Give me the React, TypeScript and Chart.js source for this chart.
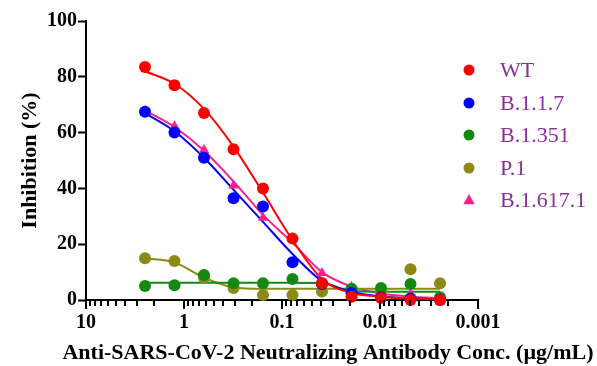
import React, { useEffect, useRef } from 'react';
import { Chart, registerables } from 'chart.js';

Chart.register(...registerables);

// Concentrations (µg/mL), 2-fold serial dilution
const concentrations = [2.5, 1.25, 0.625, 0.3125, 0.15625, 0.078125, 0.0390625, 0.01953125, 0.009765625, 0.0048828125, 0.00244140625];

const seriesNames = ['WT', 'B.1.1.7', 'B.1.351', 'P.1', 'B.1.617.1'];

// Measured inhibition (%)
const wtValues = [83.5, 77, 67, 54, 40, 22, 6, 1.2, 0.7, 0, 0];
const b117Values = [67.5, 60, 51, 36.5, 33.5, 13.5, 5.7, 2.5, 1, 0.5, 0];
const b1351Values = [5, 5.3, 9, 6, 6, 7.5, 6, 4, 4.3, 5.7, 1];
const p1Values = [15, 14, 8, 4.3, 1.8, 1.8, 3, 3, 3, 11, 6];
const b16171Values = [67.7, 62.3, 53.8, 41, 29.5, 22, 9.7, 4.7, 2, 2, -0.5];

// Fitted curves at the same concentrations
const wtFit = [82, 77.5, 68.5, 55, 38.5, 21.5, 7.5, 2.5, 1.2, 0.5, 0.3];
const b117Fit = [67, 60.5, 51, 39.5, 28, 16.5, 6.8, 3, 1.3, 0.6, 0.2];
const b1351Fit = [6.2, 6.2, 6.2, 6.2, 6.2, 6.2, 6.1, 3.2, 3, 3, 3];
const p1Fit = [15, 13.5, 8, 4.5, 4, 4, 4, 4, 4, 4, 4];
const b16171Fit = [68, 62, 53.5, 42.5, 30.5, 20.5, 10, 4.8, 2.3, 1.2, 0.6];

const xMajorTicks = [10, 1, 0.1, 0.01, 0.001];
const xTickLabels = ['10', '1', '0.1', '0.01', '0.001'];
const yTickValues = [0, 20, 40, 60, 80, 100];

const xTitle = 'Anti-SARS-CoV-2 Neutralizing Antibody Conc. (µg/mL)';
const yTitle = 'Inhibition (%)';

const SERIF = '"Liberation Serif", "Times New Roman", serif';

export default function App() {
  const ref = useRef<HTMLCanvasElement | null>(null);

  useEffect(() => {
    if (!ref.current) return;
    const series = [
      { name: seriesNames[0], pts: wtValues, fit: wtFit, color: '#ff0000', style: 'circle' },
      { name: seriesNames[1], pts: b117Values, fit: b117Fit, color: '#0000ff', style: 'circle' },
      { name: seriesNames[2], pts: b1351Values, fit: b1351Fit, color: '#128a12', style: 'circle' },
      { name: seriesNames[3], pts: p1Values, fit: p1Fit, color: '#8a8a14', style: 'circle' },
      { name: seriesNames[4], pts: b16171Values, fit: b16171Fit, color: '#ff1e8c', style: 'triangle' },
    ];

    const datasets: any[] = [];
    series.forEach((s) => {
      datasets.push({
        label: s.name + ' fit',
        data: concentrations.map((c, i) => ({ x: c, y: s.fit[i] })),
        showLine: true,
        borderColor: s.color,
        borderWidth: 2,
        pointRadius: 0,
        cubicInterpolationMode: 'monotone',
        fill: false,
        clip: false,
        order: 2,
      });
    });
    series.forEach((s) => {
      datasets.push({
        label: s.name,
        data: concentrations.map((c, i) => ({ x: c, y: s.pts[i] })),
        showLine: false,
        pointRadius: 6,
        pointStyle: s.style,
        backgroundColor: s.color,
        borderColor: s.color,
        borderWidth: 0,
        clip: false,
        order: 1,
      });
    });

    const decor = {
      id: 'decor',
      afterDraw(chart: any) {
        const ctx = chart.ctx;
        const xs = chart.scales.x;
        const area = chart.chartArea;
        ctx.save();
        // x ticks, major and minor
        ctx.strokeStyle = '#000';
        ctx.lineWidth = 2;
        const bases = [0.001, 0.01, 0.1, 1];
        const marks: { v: number; major: boolean }[] = [];
        bases.forEach((b) => {
          for (let m = 1; m <= 9; m++) marks.push({ v: b * m, major: m === 1 });
        });
        marks.push({ v: 10, major: true });
        marks.forEach((t) => {
          const px = Math.round(xs.getPixelForValue(t.v));
          ctx.beginPath();
          ctx.moveTo(px, area.bottom);
          ctx.lineTo(px, area.bottom + (t.major ? 9 : 6));
          ctx.stroke();
        });
        // x title
        ctx.fillStyle = '#000';
        ctx.font = 'bold 22px ' + SERIF;
        ctx.textAlign = 'center';
        ctx.textBaseline = 'middle';
        ctx.fillText(xTitle, 328, 353);
        // legend
        const rowsY = [70, 103, 135, 168, 200];
        series.forEach((s, i) => {
          const y = rowsY[i];
          ctx.fillStyle = s.color;
          ctx.beginPath();
          if (s.style === 'triangle') {
            const r = 6;
            ctx.moveTo(469, y - r);
            ctx.lineTo(469 + r * 0.95, y + r * 0.7);
            ctx.lineTo(469 - r * 0.95, y + r * 0.7);
            ctx.closePath();
          } else {
            ctx.arc(469, y, 5.5, 0, Math.PI * 2);
          }
          ctx.fill();
          ctx.fillStyle = '#8a2f9c';
          ctx.font = '22px ' + SERIF;
          ctx.textAlign = 'left';
          ctx.textBaseline = 'middle';
          ctx.fillText(s.name, 500, y + 1);
        });
        ctx.restore();
      },
    };

    const chart = new Chart(ref.current, {
      type: 'scatter',
      data: { datasets },
      plugins: [decor],
      options: {
        animation: false,
        responsive: false,
        maintainAspectRatio: false,
        layout: { padding: { left: 0, right: 119, top: 21, bottom: 0 } },
        plugins: { legend: { display: false }, tooltip: { enabled: false } },
        scales: {
          x: {
            type: 'logarithmic',
            reverse: true,
            min: 0.001,
            max: 10,
            afterBuildTicks: (scale: any) => {
              scale.ticks = xMajorTicks.map((v) => ({ value: v, major: true }));
            },
            afterFit: (scale: any) => {
              scale.height = 66;
            },
            ticks: {
              autoSkip: false,
              maxRotation: 0,
              padding: 2,
              color: '#000',
              font: { family: SERIF, size: 20, weight: 'bold' },
              callback: (v: any) => {
                const i = xMajorTicks.findIndex((m) => Math.abs(Math.log10(m) - Math.log10(Number(v))) < 1e-6);
                return i >= 0 ? xTickLabels[i] : '';
              },
            },
            grid: { display: false, drawTicks: true, tickLength: 9 },
            border: { display: true, color: '#000', width: 2 },
          },
          y: {
            min: 0,
            max: 100,
            afterBuildTicks: (scale: any) => {
              scale.ticks = yTickValues.map((v) => ({ value: v }));
            },
            afterFit: (scale: any) => {
              scale.width = 86;
            },
            ticks: {
              padding: 1,
              color: '#000',
              font: { family: SERIF, size: 20, weight: 'bold' },
            },
            grid: {
              drawOnChartArea: false,
              drawTicks: true,
              tickLength: 8,
              tickWidth: 2,
              tickColor: '#000',
              color: '#000',
            },
            border: { display: true, color: '#000', width: 2 },
            title: {
              display: true,
              text: yTitle,
              color: '#000',
              font: { family: SERIF, size: 22, weight: 'bold' },
              padding: { top: 17, bottom: 0 },
            },
          },
        },
      },
    } as any);

    return () => chart.destroy();
  }, []);

  return (
    <div style={{ position: 'absolute', left: 0, top: 0, width: 597, height: 366, background: '#fff' }}>
      <canvas ref={ref} width={597} height={366} style={{ width: 597, height: 366 }} />
    </div>
  );
}
